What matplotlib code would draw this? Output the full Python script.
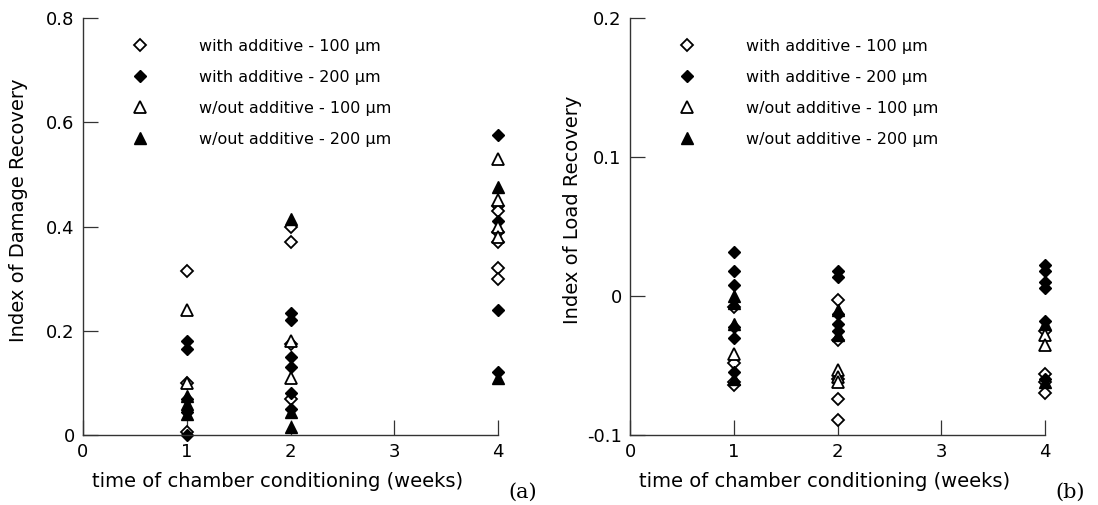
import matplotlib
matplotlib.use('Agg')
import matplotlib.pyplot as plt
from matplotlib.lines import Line2D

plt.rcParams['font.family'] = ['DejaVu Sans']

# ---- data: index of damage recovery (panel a) ----
dmg_w100_x = [1, 1, 1, 2, 2, 2, 2, 4, 4, 4, 4, 4, 4]
dmg_w100_y = [0.315, 0.10, 0.005, 0.40, 0.37, 0.175, 0.07, 0.44, 0.43, 0.39, 0.37, 0.32, 0.30]
dmg_w200_x = [1, 1, 1, 1, 1, 2, 2, 2, 2, 2, 2, 4, 4, 4, 4]
dmg_w200_y = [0.18, 0.165, 0.07, 0.045, 0.0, 0.235, 0.22, 0.15, 0.13, 0.08, 0.05, 0.575, 0.41, 0.24, 0.12]
dmg_wo100_x = [1, 1, 2, 2, 4, 4, 4, 4]
dmg_wo100_y = [0.24, 0.10, 0.18, 0.11, 0.53, 0.45, 0.40, 0.38]
dmg_wo200_x = [1, 1, 1, 2, 2, 2, 4, 4]
dmg_wo200_y = [0.06, 0.04, 0.075, 0.415, 0.045, 0.015, 0.475, 0.11]

# ---- data: index of load recovery (panel b) ----
load_w100_x = [1, 1, 1, 1, 2, 2, 2, 2, 2, 4, 4, 4, 4]
load_w100_y = [-0.008, -0.048, -0.062, -0.064, -0.003, -0.032, -0.060, -0.074, -0.089,
               -0.025, -0.056, -0.062, -0.070]
load_w200_x = [1, 1, 1, 1, 1, 1, 2, 2, 2, 2, 2, 4, 4, 4, 4, 4, 4]
load_w200_y = [0.032, 0.018, 0.008, -0.022, -0.030, -0.055, 0.018, 0.014, -0.013, -0.020, -0.025,
               0.022, 0.018, 0.010, 0.006, -0.018, -0.060]
load_wo100_x = [1, 2, 2, 2, 4, 4]
load_wo100_y = [-0.042, -0.053, -0.058, -0.062, -0.028, -0.035]
load_wo200_x = [1, 1, 1, 1, 2, 2, 4, 4]
load_wo200_y = [0.0, -0.005, -0.020, -0.060, -0.010, -0.028, -0.020, -0.062]

labels = ['with additive - 100 \u03bcm', 'with additive - 200 \u03bcm',
          'w/out additive - 100 \u03bcm', 'w/out additive - 200 \u03bcm']
xticks = [0, 1, 2, 3, 4]
dmg_ticks = [0, 0.2, 0.4, 0.6, 0.8]
dmg_ticklabels = ['0', '0.2', '0.4', '0.6', '0.8']
load_ticks = [-0.1, 0, 0.1, 0.2]
load_ticklabels = ['-0.1', '0', '0.1', '0.2']

styles = [dict(marker='D', ms=6, mfc='white', mec='black', mew=1.3),
          dict(marker='D', ms=6, mfc='black', mec='black', mew=1.0),
          dict(marker='^', ms=8.5, mfc='white', mec='black', mew=1.3),
          dict(marker='^', ms=8.5, mfc='black', mec='black', mew=1.0)]

W, H = 1098, 505
fig = plt.figure(figsize=(W / 100, H / 100), dpi=100)


def panel(left_px, series, ylim, yticks, yticklabels, ylabel, ylab_x, tag):
    ax = fig.add_axes([left_px / W, (H - 435) / H, 415 / W, 417 / H])
    for (x, y), st in zip(series, styles):
        ax.plot(x, y, linestyle='none', clip_on=False, **st)
    ax.set_xlim(0, 4)
    ax.set_ylim(*ylim)
    ax.set_xticks(xticks)
    ax.set_yticks(yticks)
    ax.set_yticklabels(yticklabels)
    for s in ['top', 'right']:
        ax.spines[s].set_visible(False)
    for s in ['left', 'bottom']:
        ax.spines[s].set_linewidth(1.0)
        ax.spines[s].set_color('#333333')
    ax.tick_params(direction='in', length=11, width=0.9, color='#333333',
                   labelsize=13, pad=6)
    ax.set_xlabel('time of chamber conditioning (weeks)', fontsize=14)
    ax.xaxis.set_label_coords(0.47, -0.088)
    ax.set_ylabel(ylabel, fontsize=14)
    ax.yaxis.set_label_coords(ylab_x, 0.54)
    handles = [Line2D([], [], linestyle='none', **st) for st in styles]
    ax.legend(handles, labels, loc='upper left', bbox_to_anchor=(0.118, 0.95),
              frameon=False, fontsize=11.5, handlelength=1.0, handletextpad=3.2,
              labelspacing=1.0, borderpad=0, borderaxespad=0)
    fig.text((left_px + 440) / W, 1 - 492 / H, tag, family='DejaVu Serif',
             fontsize=15, ha='center', va='center')
    return ax


panel(83, [(dmg_w100_x, dmg_w100_y), (dmg_w200_x, dmg_w200_y),
           (dmg_wo100_x, dmg_wo100_y), (dmg_wo200_x, dmg_wo200_y)],
      (0, 0.8), dmg_ticks, dmg_ticklabels, 'Index of Damage Recovery', -0.133, '(a)')
panel(630, [(load_w100_x, load_w100_y), (load_w200_x, load_w200_y),
            (load_wo100_x, load_wo100_y), (load_wo200_x, load_wo200_y)],
      (-0.1, 0.2), load_ticks, load_ticklabels, 'Index of Load Recovery', -0.115, '(b)')

fig.savefig('out.png', dpi=100)
